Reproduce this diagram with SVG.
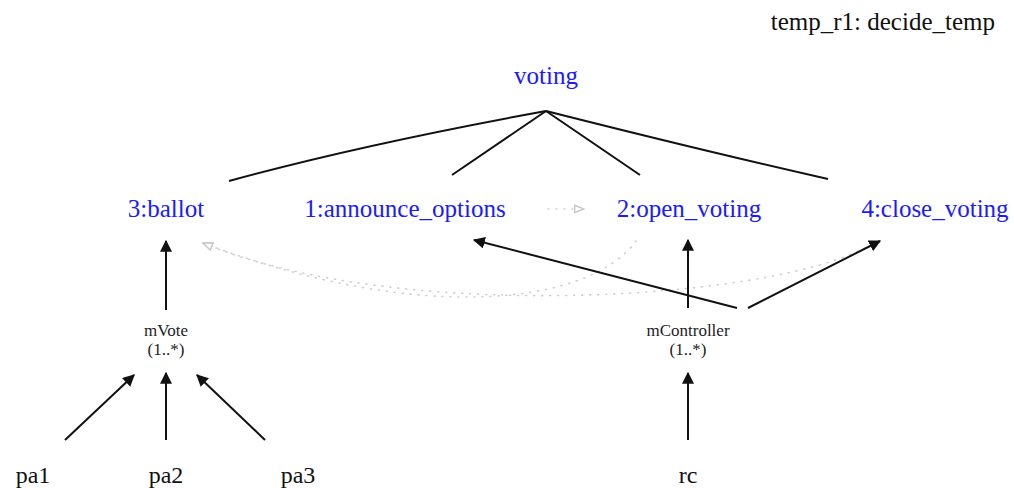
<svg xmlns="http://www.w3.org/2000/svg" width="1014" height="488" viewBox="0 0 1014 488">
  <style>
    .task { font-family: "Liberation Serif", "Times New Roman", serif; font-size: 25px; fill: #1a1aff; text-anchor: middle; }
    .agent { font-family: "Liberation Serif", "Times New Roman", serif; font-size: 24px; fill: #111; text-anchor: middle; }
    .msg { font-family: "Liberation Serif", "Times New Roman", serif; font-size: 17px; fill: #222; text-anchor: middle; }
    .title { font-family: "Liberation Serif", "Times New Roman", serif; font-size: 25px; fill: #111; text-anchor: end; }
    .tree { fill: none; stroke: #111; stroke-width: 2; }
    .flow { fill: none; stroke: #111; stroke-width: 2; marker-end: url(#solid); }
    .order { fill: none; stroke: #cfcfcf; stroke-width: 1.6; stroke-dasharray: 1 7; stroke-linecap: round; marker-end: url(#hollow); }
  </style>
  <defs>
    <marker id="solid" viewBox="0 0 10 10" refX="9" refY="5" markerWidth="6" markerHeight="6" orient="auto">
      <path d="M0,0 L10,5 L0,10 z" fill="#111"/>
    </marker>
    <marker id="hollow" viewBox="0 0 12 10" refX="11" refY="5" markerWidth="7" markerHeight="6" orient="auto">
      <path d="M1,1 L11,5 L1,9 z" fill="#fff" stroke="#c8c8c8" stroke-width="1.5"/>
    </marker>
  </defs>

  <text class="title" x="995" y="30">temp_r1: decide_temp</text>

  <g id="connectors">
    <!-- decomposition of the root task -->
    <path class="tree" d="M546,111 Q360,145 229,181"/>
    <path class="tree" d="M546,111 L452,175"/>
    <path class="tree" d="M546,111 L640,175"/>
    <path class="tree" d="M546,111 Q700,150 828,179"/>
    <!-- ordering between subtasks -->
    <path class="order" d="M548,209 L584,209"/>
    <path class="order" d="M636,241 C590,305 420,325 203,243"/>
    <path class="order" d="M872,244 C780,300 400,325 203,243"/>
    <!-- messages feeding tasks -->
    <path class="flow" d="M166,310 L166,241"/>
    <path class="flow" d="M65,440 L134,375"/>
    <path class="flow" d="M166,440 L166,373"/>
    <path class="flow" d="M265,440 L197,375"/>
    <path class="flow" d="M688,440 L688,373"/>
    <path class="flow" d="M737,308 L474,240"/>
    <path class="flow" d="M688,308 L688,240"/>
    <path class="flow" d="M748,308 L880,241"/>
  </g>

  <g id="voting"><text class="task" x="546" y="84">voting</text></g>
  <g id="ballot"><text class="task" x="166" y="217">3:ballot</text></g>
  <g id="announce_options"><text class="task" x="405" y="217">1:announce_options</text></g>
  <g id="open_voting"><text class="task" x="689" y="217">2:open_voting</text></g>
  <g id="close_voting"><text class="task" x="935" y="217">4:close_voting</text></g>

  <g id="mVote">
    <text class="msg" x="166" y="336">mVote</text>
    <text class="msg" x="166" y="355">(1..*)</text>
  </g>
  <g id="mController">
    <text class="msg" x="688" y="336">mController</text>
    <text class="msg" x="688" y="355">(1..*)</text>
  </g>

  <g id="pa1"><text class="agent" x="33" y="483">pa1</text></g>
  <g id="pa2"><text class="agent" x="166" y="483">pa2</text></g>
  <g id="pa3"><text class="agent" x="298" y="483">pa3</text></g>
  <g id="rc"><text class="agent" x="688" y="483">rc</text></g>
</svg>
